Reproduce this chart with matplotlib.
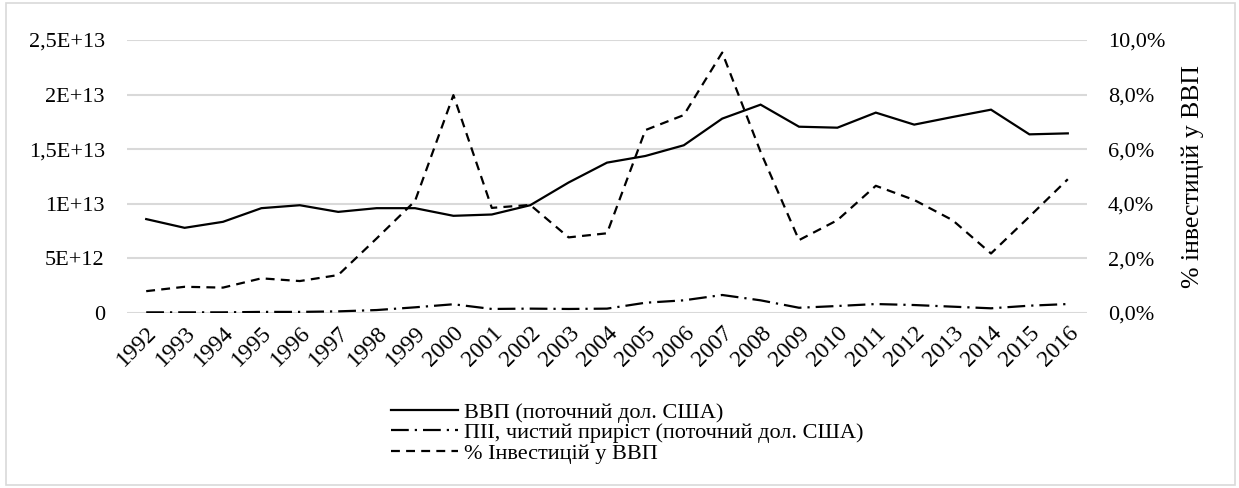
import matplotlib
matplotlib.use("Agg")
import matplotlib.pyplot as plt
from matplotlib.patches import Rectangle
from matplotlib.ticker import FixedLocator

plt.rcParams['font.family'] = ['Liberation Serif', 'DejaVu Serif']

years = [str(y) for y in range(1992, 2017)]
gdp = [8.6, 7.8, 8.35, 9.6, 9.87, 9.26, 9.6, 9.6, 8.9, 9.02, 9.87, 11.95, 13.77,
       14.38, 15.36, 17.8, 19.08, 17.06, 16.97, 18.35, 17.25, 17.95, 18.62, 16.36, 16.45]
fdi = [0.06, 0.06, 0.06, 0.1, 0.1, 0.15, 0.27, 0.52, 0.8, 0.37, 0.4, 0.37, 0.4,
       0.94, 1.16, 1.65, 1.16, 0.48, 0.64, 0.82, 0.73, 0.58, 0.43, 0.67, 0.82]
inv_pct = [0.8, 0.96, 0.93, 1.27, 1.17, 1.39, 2.73, 4.1, 7.98, 3.85, 3.96, 2.77, 2.92,
           6.7, 7.25, 9.54, 5.9, 2.67, 3.4, 4.66, 4.14, 3.4, 2.18, 3.53, 4.9]
scale = 1e12

left_ticks = [0, 5e12, 1e13, 1.5e13, 2e13, 2.5e13]
left_labels = ['0', '5E+12', '1E+13', '1,5E+13', '2E+13', '2,5E+13']
right_ticks = [0, 2, 4, 6, 8, 10]
right_labels = ['0,0%', '2,0%', '4,0%', '6,0%', '8,0%', '10,0%']

labels = ['ВВП (поточний дол. США)',
          'ПІІ, чистий приріст (поточний дол. США)',
          '% Інвестицій у ВВП']
right_title = '% інвестицій у ВВП'

W, H = 1239, 488
fig = plt.figure(figsize=(W / 100, H / 100), dpi=100)
ax = fig.add_axes([127 / W, 1 - 313 / H, (1087 - 127) / W, (313 - 40) / H])
ax2 = ax.twinx()

x = list(range(len(years)))
lw = 1.6
l1, = ax.plot(x, [v * scale for v in gdp], color='black', lw=lw, solid_joinstyle='miter')
l2, = ax.plot(x, [v * scale for v in fdi], color='black', lw=lw,
              dashes=(8, 2.7, 1, 2.7))
l3, = ax2.plot(x, inv_pct, color='black', lw=lw, dashes=(4, 2.8))

ax.set_xlim(-0.5, len(years) - 0.5)
ax.set_ylim(0, 2.5e13)
ax2.set_ylim(0, 10)

ax.yaxis.set_major_locator(FixedLocator(left_ticks))
ax.set_yticklabels(left_labels)
ax2.yaxis.set_major_locator(FixedLocator(right_ticks))
ax2.set_yticklabels(right_labels)
ax.set_xticks(x)
ax.set_xticklabels(years, rotation=45, ha='right', va='top', rotation_mode='anchor')

for a in (ax, ax2):
    for s in a.spines.values():
        s.set_visible(False)
    a.tick_params(length=0)
ax.tick_params(axis='y', labelsize=16, pad=16)
ax2.tick_params(axis='y', labelsize=16, pad=15)
ax.tick_params(axis='x', labelsize=17, pad=7)

ax.grid(axis='y', color='#d9d9d9', lw=1.5)
ax.set_axisbelow(True)
ax2.set_ylabel(right_title, fontsize=18.5, labelpad=12)

fig.legend([l1, l2, l3], labels, loc='upper left',
           bbox_to_anchor=(380 / W, 1 - 391 / H), frameon=False, fontsize=16,
           handlelength=3.0, handletextpad=0.3, labelspacing=0.0, borderpad=0)

fig.add_artist(Rectangle((6 / W, 3 / H), (W - 10) / W, (H - 6) / H,
                         transform=fig.transFigure, fill=False,
                         edgecolor='#d9d9d9', lw=1.2))

fig.savefig('out.png', dpi=100, facecolor='white')
